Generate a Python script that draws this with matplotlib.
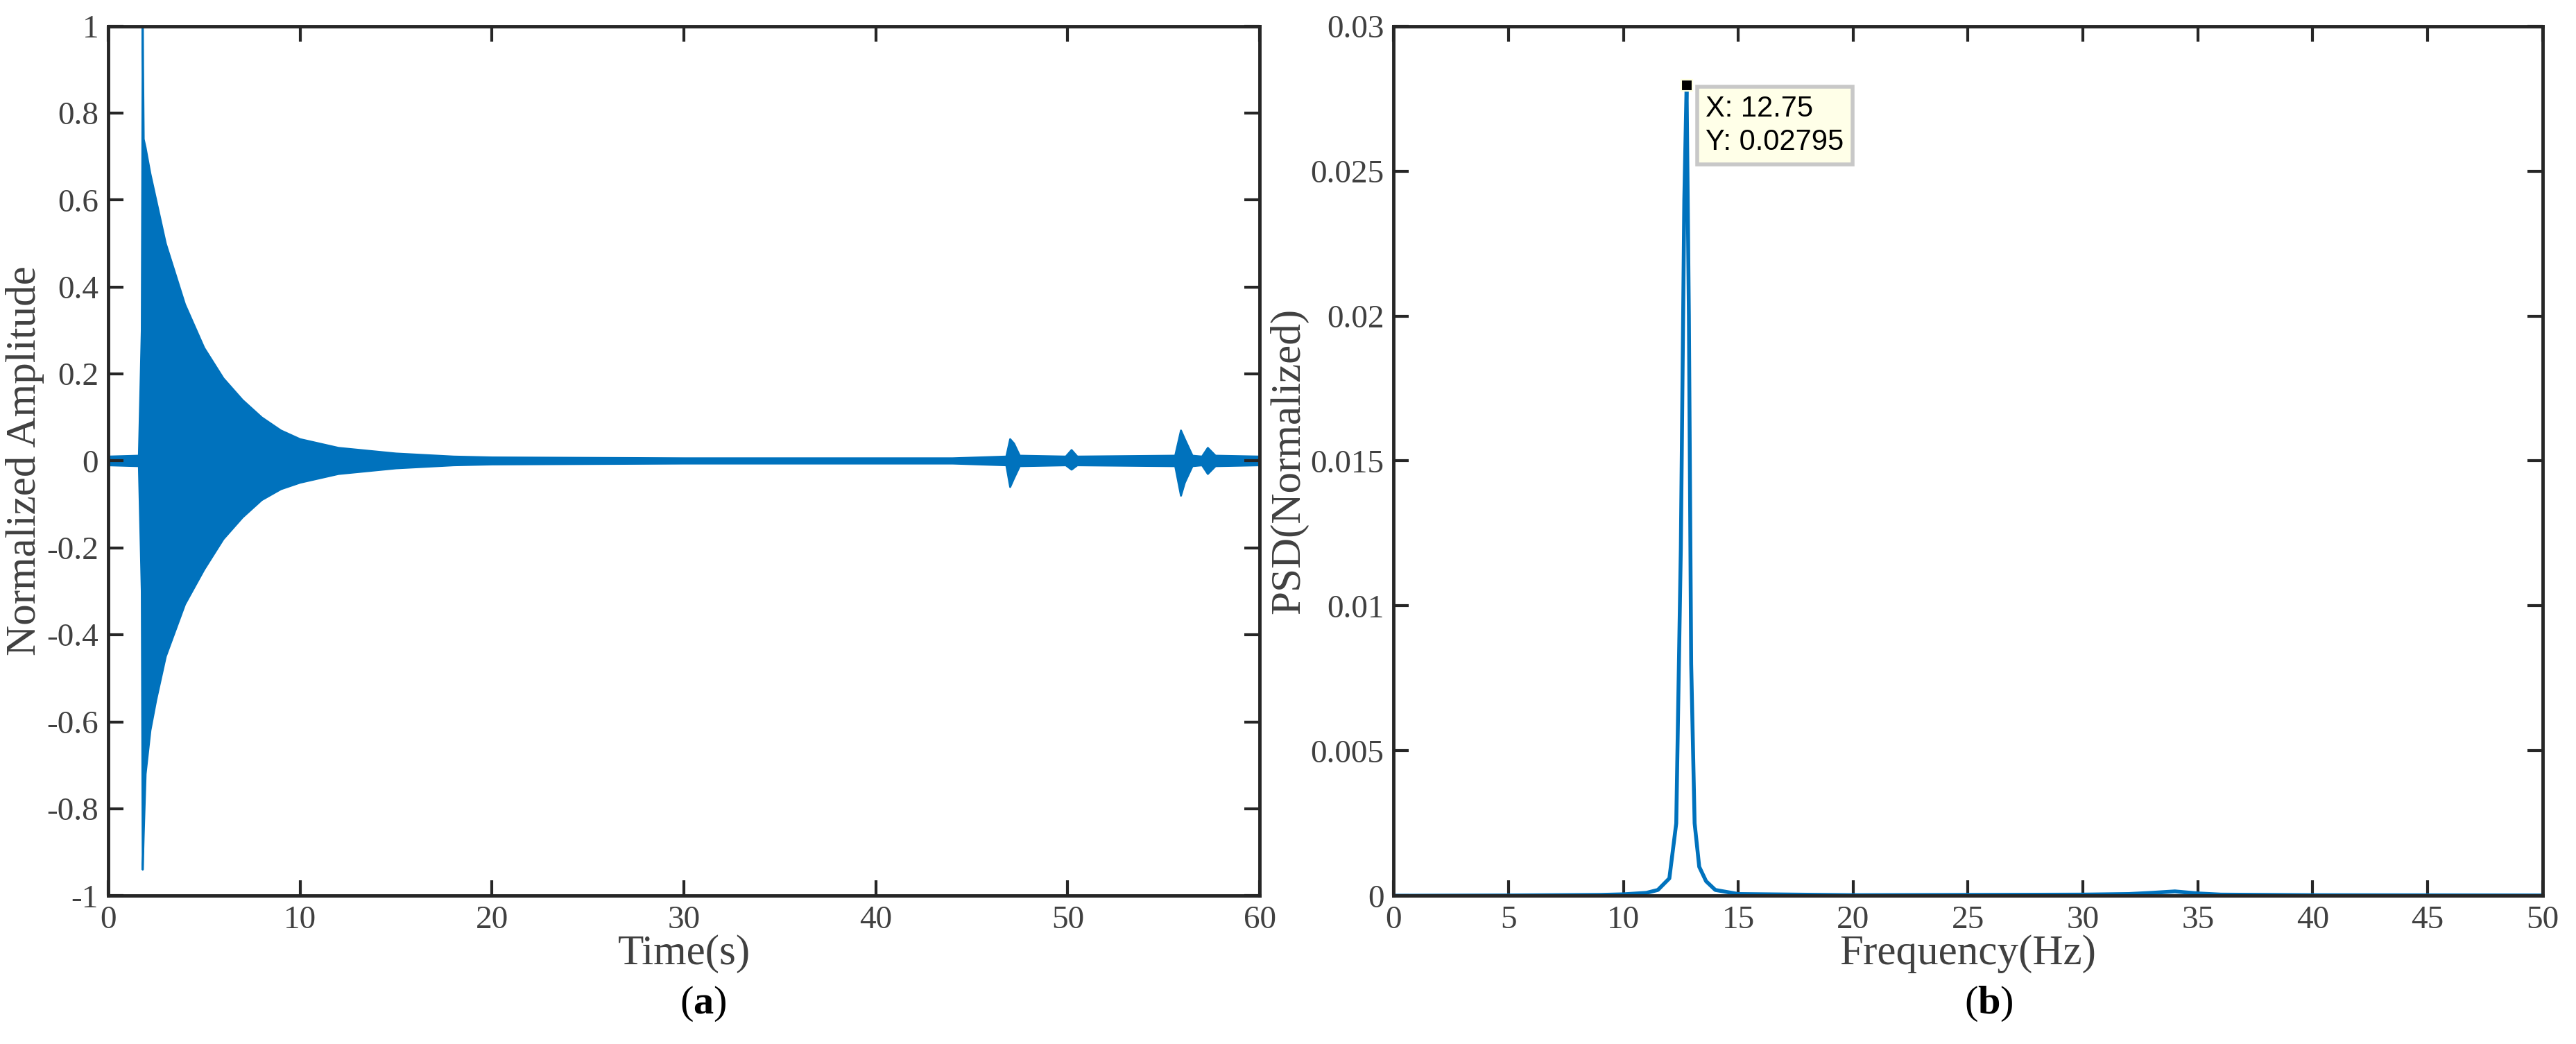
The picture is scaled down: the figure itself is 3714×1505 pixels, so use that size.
import matplotlib
matplotlib.use("Agg")
import matplotlib.pyplot as plt
import numpy as np

# Time-domain envelope
env_t = [0, 1.6, 1.75, 1.8, 1.85, 1.95, 2.2, 2.5, 3, 3.5, 4, 5, 6, 7, 8, 9, 10, 12, 15, 18, 20, 30, 40, 44,
         46.8, 47.0, 47.2, 47.5, 49.9, 50.2, 50.5, 55.6, 55.9, 56.1, 56.5, 57.0, 57.3, 57.7, 60]
env_up = [0.01, 0.012, 0.3, 1.0, 0.74, 0.72, 0.66, 0.6, 0.5, 0.43, 0.36, 0.26, 0.19, 0.14, 0.10, 0.07, 0.05, 0.03, 0.017, 0.01, 0.008, 0.006, 0.006, 0.006,
          0.01, 0.05, 0.04, 0.012, 0.01, 0.025, 0.01, 0.012, 0.07, 0.05, 0.012, 0.01, 0.03, 0.012, 0.01]
env_lo = [-0.01, -0.012, -0.3, -0.94, -0.86, -0.72, -0.62, -0.55, -0.45, -0.39, -0.33, -0.25, -0.18, -0.13, -0.09, -0.065, -0.05, -0.03, -0.017, -0.01, -0.008, -0.006, -0.006, -0.006,
          -0.01, -0.06, -0.04, -0.012, -0.01, -0.02, -0.01, -0.012, -0.08, -0.05, -0.012, -0.01, -0.03, -0.012, -0.01]

# PSD
psd_f = [0, 5, 9, 10, 11, 11.5, 12.0, 12.3, 12.5, 12.65, 12.75, 12.85, 12.95, 13.1, 13.3, 13.6, 14, 15, 20, 25, 30, 32, 33, 34, 35, 36, 40, 50]
psd_v = [0, 0.00001, 0.00003, 0.00005, 0.0001, 0.0002, 0.0006, 0.0025, 0.012, 0.024, 0.02795, 0.02, 0.008, 0.0025, 0.001, 0.0005, 0.0002, 0.00006, 0.00002, 0.00003, 0.00004, 0.00006, 0.0001, 0.00015, 0.00008, 0.00004, 0.00002, 0.00001]
peak_x, peak_y = 12.75, 0.02795

blue = "#0072BD"
axc = "#262626"
plt.rcParams['font.family'] = ['Liberation Serif', 'DejaVu Serif']
plt.rcParams['mathtext.fontset'] = 'custom'
plt.rcParams['mathtext.rm'] = 'Liberation Serif'
plt.rcParams['mathtext.bf'] = 'Liberation Serif:bold'

fig = plt.figure(figsize=(37.14, 15.05), dpi=100)
ax1 = fig.add_axes([0.042, 0.142, 0.447, 0.833])
ax2 = fig.add_axes([0.541, 0.142, 0.446, 0.833])

def style(ax):
    for s in ax.spines.values():
        s.set_linewidth(3.5); s.set_color(axc)
    ax.tick_params(direction='in', length=16, width=3, colors=axc, labelcolor='#404040',
                   labelsize=34, top=True, right=True, pad=10)

ax1.fill_between(env_t, env_lo, env_up, color=blue, lw=0)
ax1.plot(env_t, env_up, color=blue, lw=2)
ax1.plot(env_t, env_lo, color=blue, lw=2)
ax1.set_xlim(0, 60); ax1.set_ylim(-1, 1)
ax1.set_xticks(np.arange(0, 61, 10))
ax1.set_yticks(np.round(np.arange(-1, 1.01, 0.2), 1))
ax1.set_yticklabels(['-1', '-0.8', '-0.6', '-0.4', '-0.2', '0', '0.2', '0.4', '0.6', '0.8', '1'])
style(ax1)
ax1.set_xlabel('Time(s)', fontsize=44, color='#404040', labelpad=0)
ax1.set_ylabel('Normalized Amplitude', fontsize=44, color='#404040', labelpad=2)

ax2.plot(psd_f, psd_v, color=blue, lw=4)
ax2.set_xlim(0, 50); ax2.set_ylim(0, 0.03)
ax2.set_xticks(np.arange(0, 51, 5))
ax2.set_yticks([0, 0.005, 0.01, 0.015, 0.02, 0.025, 0.03])
ax2.set_yticklabels(['0', '0.005', '0.01', '0.015', '0.02', '0.025', '0.03'])
style(ax2)
ax2.set_xlabel('Frequency(Hz)', fontsize=44, color='#404040', labelpad=0)
ax2.set_ylabel('PSD(Normalized)', fontsize=44, color='#404040', labelpad=2)
ax2.plot([peak_x], [peak_y], 's', color='black', ms=11, mec='#ffffe0', mew=1.5)
ax2.annotate(f'X: {peak_x}\nY: {peak_y}', (peak_x, peak_y), xytext=(20, -10), textcoords='offset points',
             ha='left', va='top', fontsize=30, family=['Liberation Sans'], linespacing=1.25,
             bbox=dict(boxstyle='square,pad=0.3', fc='#ffffe8', ec='#c8c8c8', lw=4))

fig.text(0.273, 0.02, r'($\mathbf{a}$)', fontsize=42, ha='center', va='bottom')
fig.text(0.772, 0.02, r'($\mathbf{b}$)', fontsize=42, ha='center', va='bottom')

fig.savefig('out.png', dpi=100)
